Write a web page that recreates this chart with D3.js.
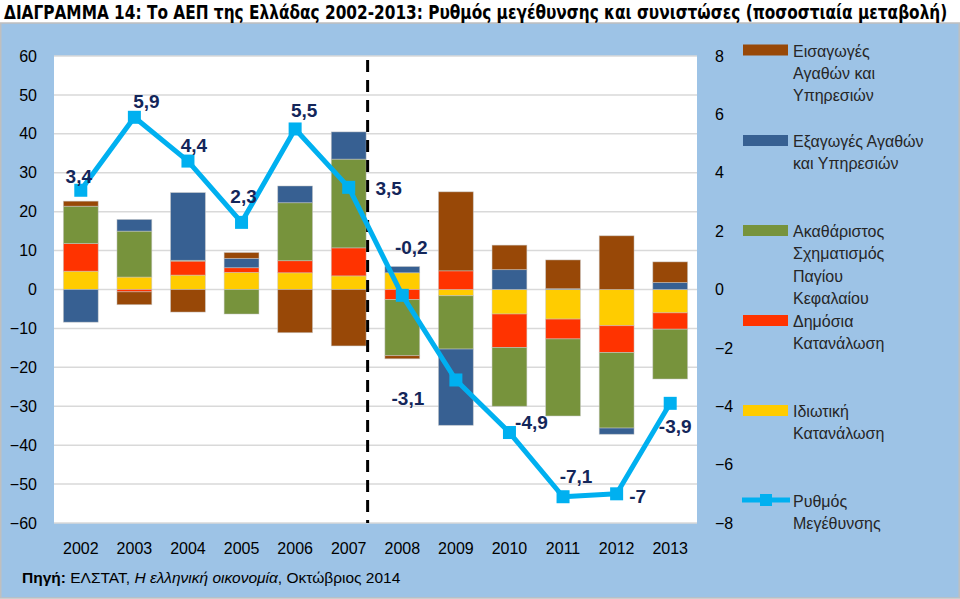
<!DOCTYPE html>
<html><head><meta charset="utf-8">
<script src="https://cdn.jsdelivr.net/npm/d3@7"></script>
<style>
html,body{margin:0;padding:0;background:#fff;}
svg{display:block;}
</style></head>
<body><svg id="c" width="960" height="599"></svg>
<script>
// ---- data ----
const years = ["2002","2003","2004","2005","2006","2007","2008","2009","2010","2011","2012","2013"];
const privateCons = [4.7, 3.2, 3.7, 4.4, 4.3, 3.5, 4.3, -1.6, -6.3, -7.6, -9.3, -6.0];
const publicCons  = [7.1, -0.6, 3.6, 1.2, 3.1, 7.2, -2.6, 4.8, -8.6, -5.1, -6.9, -4.2];
const gfcf        = [9.6, 11.8, 0.2, -6.3, 14.9, 22.8, -14.4, -13.7, -15.1, -19.8, -19.4, -12.8];
const exportsGS   = [-8.4, 3.0, 17.4, 2.4, 4.3, 7.0, 1.6, -19.6, 5.1, 0.2, -1.6, 1.8];
const importsGS   = [1.3, -3.3, -5.8, 1.5, -11.1, -14.5, -0.8, 20.3, 6.3, 7.4, 13.8, 5.3];
const growth      = [3.4, 5.9, 4.4, 2.3, 5.5, 3.5, -0.2, -3.1, -4.9, -7.1, -7, -3.9];
const growthLabels = ["3,4","5,9","4,4","2,3","5,5","3,5","-0,2","-3,1","-4,9","-7,1","-7","-3,9"];
const leftTicks  = [60,50,40,30,20,10,0,-10,-20,-30,-40,-50,-60];
const rightTicks = [8,6,4,2,0,-2,-4,-6,-8];
const seriesNames = ["Ιδιωτική Κατανάλωση","Δημόσια Κατανάλωση","Ακαθάριστος Σχηματισμός Παγίου Κεφαλαίου","Εξαγωγές Αγαθών και Υπηρεσιών","Εισαγωγές Αγαθών και Υπηρεσιών"];
const lineName = "Ρυθμός Μεγέθυνσης";
const title = "ΔΙΑΓΡΑΜΜΑ 14: Το ΑΕΠ της Ελλάδας 2002-2013: Ρυθμός μεγέθυνσης και συνιστώσες (ποσοστιαία μεταβολή)";

// ---- styles / layout ----
const colors = ["#FFCC00","#FF3300","#77933C","#376092","#984807"];
const lineColor = "#00B0F0";
const labelColor = "#13265A";
const font = "'Liberation Sans', Arial, sans-serif";
// label offsets (dx, dy) relative to each line point
const labelOffsets = [[-2,-14],[12,-16],[6,-16],[2,-26],[9,-18],[40,1],[9,-48],[-48,19],[22,-10],[13,-20],[21,3],[5,23]];

const svg = d3.select("#c");
// backgrounds
svg.append("rect").attr("x",0).attr("y",0).attr("width",960).attr("height",599).attr("fill","#fff");
svg.append("rect").attr("x",0.75).attr("y",23).attr("width",958.5).attr("height",575).attr("fill","#9DC3E6").attr("stroke","#BFBFBF").attr("stroke-width",1.5);

const plot = {l:54, r:697, t:56, b:523};
svg.append("rect").attr("x",plot.l).attr("y",plot.t).attr("width",plot.r-plot.l).attr("height",plot.b-plot.t).attr("fill","#fff");

// title (scaled horizontally to the reference width)
const tt = svg.append("text").attr("x",0).attr("y",0).text(title)
  .attr("font-family","'Liberation Sans Narrow', 'DejaVu Sans Condensed', Arial, sans-serif")
  .attr("font-weight","bold").attr("font-size",19).attr("fill","#000");
const tw = tt.node().getComputedTextLength();
tt.attr("transform",`translate(4,18.5) scale(${944/tw},1)`);

const x = d3.scaleBand().domain(years).range([plot.l, plot.r]).paddingInner(0.35).paddingOuter(0.175);
const y = d3.scaleLinear().domain([-60,60]).range([plot.b, plot.t]);
const y2 = d3.scaleLinear().domain([-8,8]).range([plot.b, plot.t]);

// gridlines
svg.append("g").selectAll("line").data(leftTicks).join("line")
  .attr("x1",plot.l).attr("x2",plot.r).attr("y1",d=>y(d)).attr("y2",d=>y(d))
  .attr("stroke","#D9D9D9").attr("stroke-width",1.5);

// left axis
const la = svg.append("g").attr("transform",`translate(${plot.l},0)`)
  .call(d3.axisLeft(y).tickValues(leftTicks).tickSize(0).tickPadding(17));
la.select(".domain").remove();
la.selectAll("text").attr("font-family",font).attr("font-size",16).attr("fill","#000");

// right axis
const ra = svg.append("g").attr("transform",`translate(${plot.r},0)`)
  .call(d3.axisRight(y2).tickValues(rightTicks).tickSize(0).tickPadding(18));
ra.select(".domain").remove();
ra.selectAll("text").attr("font-family",font).attr("font-size",16).attr("fill","#000");

// x axis
const xa = svg.append("g").attr("transform",`translate(0,${plot.b})`)
  .call(d3.axisBottom(x).tickSize(0).tickPadding(20));
xa.select(".domain").remove();
xa.selectAll("text").attr("font-family",font).attr("font-size",16).attr("fill","#000");

// stacked bars
const table = years.map((yr,i)=>({year:yr, s0:privateCons[i], s1:publicCons[i], s2:gfcf[i], s3:exportsGS[i], s4:importsGS[i]}));
const stack = d3.stack().keys(["s0","s1","s2","s3","s4"]).offset(d3.stackOffsetDiverging);
const series = stack(table);
svg.append("g").selectAll("g").data(series).join("g")
  .attr("fill",(d,i)=>colors[i])
  .selectAll("rect").data(d=>d).join("rect")
  .attr("x",d=>x(d.data.year)).attr("width",x.bandwidth())
  .attr("y",d=>y(Math.max(d[0],d[1]))).attr("height",d=>Math.abs(y(d[0])-y(d[1])))
  .attr("stroke","rgba(200,200,200,0.6)").attr("stroke-width",0.8);

// dashed separator between 2007 and 2008
const sepX = x("2007") + x.bandwidth() + 1.5;
svg.append("line").attr("x1",sepX).attr("x2",sepX).attr("y1",y(59)).attr("y2",plot.b)
  .attr("stroke","#000").attr("stroke-width",3).attr("stroke-dasharray","12,8");

// growth line
const cx = d => x(d) + x.bandwidth()/2;
const line = d3.line().x((d,i)=>cx(years[i])).y(d=>y2(d));
svg.append("path").datum(growth).attr("d",line).attr("fill","none")
  .attr("stroke",lineColor).attr("stroke-width",5).attr("stroke-linejoin","round");
svg.append("g").selectAll("rect").data(growth).join("rect")
  .attr("x",(d,i)=>cx(years[i])-6.5).attr("y",d=>y2(d)-6.5).attr("width",13).attr("height",13)
  .attr("fill",lineColor);
svg.append("g").selectAll("text").data(growth).join("text")
  .attr("x",(d,i)=>cx(years[i])+labelOffsets[i][0]).attr("y",(d,i)=>y2(d)+labelOffsets[i][1])
  .attr("text-anchor","middle").attr("dominant-baseline","central")
  .attr("font-family",font).attr("font-weight","bold").attr("font-size",19).attr("fill",labelColor)
  .text((d,i)=>growthLabels[i]);

// legend
const legendItems = [
  {color:colors[4], lines:["Εισαγωγές","Αγαθών και","Υπηρεσιών"], y:50},
  {color:colors[3], lines:["Εξαγωγές Αγαθών","και Υπηρεσιών"], y:140.5},
  {color:colors[2], lines:["Ακαθάριστος","Σχηματισμός","Παγίου","Κεφαλαίου"], y:230.5},
  {color:colors[1], lines:["Δημόσια","Κατανάλωση"], y:320.5},
  {color:colors[0], lines:["Ιδιωτική","Κατανάλωση"], y:410.5}
];
const lg = svg.append("g");
const legFont = 16;
legendItems.forEach(it=>{
  lg.append("rect").attr("x",743).attr("y",it.y-5.5).attr("width",45).attr("height",11).attr("fill",it.color);
  it.lines.forEach((t,j)=>{
    lg.append("text").attr("x",793).attr("y",it.y+1+j*22.3).attr("dominant-baseline","central")
      .attr("font-family",font).attr("font-size",legFont).attr("fill","#262626").text(t);
  });
});
lg.append("line").attr("x1",742).attr("x2",790).attr("y1",500).attr("y2",500).attr("stroke",lineColor).attr("stroke-width",5);
lg.append("rect").attr("x",760).attr("y",494).attr("width",12).attr("height",12).attr("fill",lineColor);
["Ρυθμός","Μεγέθυνσης"].forEach((t,j)=>{
  lg.append("text").attr("x",793).attr("y",501+j*22.3).attr("dominant-baseline","central")
    .attr("font-family",font).attr("font-size",legFont).attr("fill","#262626").text(t);
});

// source
const src = svg.append("text").attr("x",22).attr("y",583).attr("font-family",font).attr("font-size",15.5).attr("fill","#000");
src.append("tspan").attr("font-weight","bold").text("Πηγή:");
src.append("tspan").text(" ΕΛΣΤΑΤ, ");
src.append("tspan").attr("font-style","italic").text("Η ελληνική οικονομία");
src.append("tspan").text(", Οκτώβριος 2014");
</script>
</body></html>
